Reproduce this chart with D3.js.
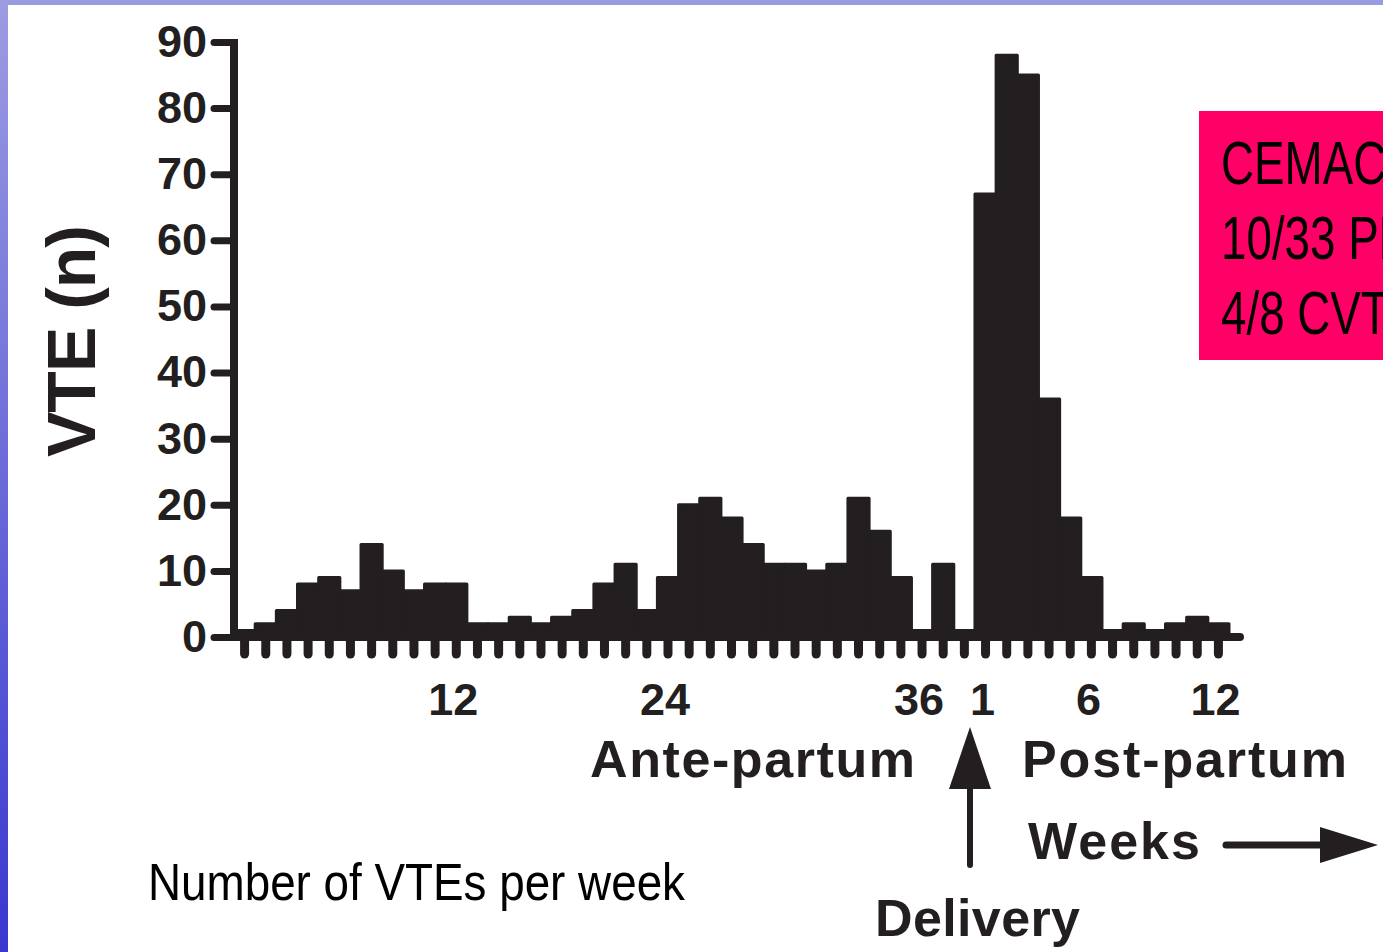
<!DOCTYPE html>
<html>
<head>
<meta charset="utf-8">
<script src="https://cdn.jsdelivr.net/npm/d3@7"></script>
<style>
  body { margin: 0; background: #fff; }
  svg { display: block; }
</style>
</head>
<body>
<svg id="chart" width="1383" height="952"></svg>
<script>
// weekly VTE counts
const anteWeeks = ["A1","A2","A3","A4","A5","A6","A7","A8","A9","A10","A11","A12","A13","A14","A15","A16","A17","A18",
                   "A19","A20","A21","A22","A23","A24","A25","A26","A27","A28","A29","A30","A31","A32","A33","A34","A35"];
const anteCounts = [1,2,4,8,9,7,14,10,7,8,8,2,2,3,2,3,4,8,11,4,9,20,21,18,14,11,11,10,11,21,16,9,1,11,1];
const postWeeks = ["P1","P2","P3","P4","P5","P6","P7","P8","P9","P10","P11","P12"];
const postCounts = [67,88,85,36,18,9,1,2,1,2,3,2];

const yTicks = [0,10,20,30,40,50,60,70,80,90];
const xTickAt = ["A11","A21","A33","P1","P6","P12"];
const xTickText = ["12","24","36","1","6","12"];

const boxLines = ["CEMACH", "10/33 PEs", "4/8 CVT"];

const ink = "#231f20";
const bold = "'Liberation Sans', Arial, Helvetica, sans-serif";

let svg = d3.select("#chart");

// slide frame: gradient strip on the left, flat strip on top
let defs = svg.append("defs");
let grad = defs.append("linearGradient")
    .attr("id", "side")
    .attr("x1", 0).attr("y1", 0).attr("x2", 0).attr("y2", 1);
grad.append("stop").attr("offset", "0%").attr("stop-color", "#9c9ce2");
grad.append("stop").attr("offset", "100%").attr("stop-color", "#3a38cf");

svg.append("rect").attr("x", 0).attr("y", 0).attr("width", 1383).attr("height", 5).attr("fill", "#9a9ae1");
svg.append("rect").attr("x", 0).attr("y", 0).attr("width", 8).attr("height", 952).attr("fill", "url(#side)");

const categories = anteWeeks.concat(postWeeks);
const counts = anteCounts.concat(postCounts);
const data = categories.map((c, i) => ({week: c, n: counts[i]}));

const x = d3.scaleBand()
    .domain(categories)
    .range([234, 1229])
    .padding(0);

const y = d3.scaleLinear()
    .domain([0, 90])
    .range([637, 42]);

// bars
svg.append("g")
    .selectAll("rect")
    .data(data)
    .enter()
    .append("rect")
    .attr("x", d => x(d.week))
    .attr("y", d => y(d.n))
    .attr("width", x.bandwidth())
    .attr("height", d => y(0) - y(d.n))
    .attr("fill", ink)
    .attr("stroke", ink)
    .attr("stroke-width", 3)
    .attr("stroke-linejoin", "round");

// y axis
let yAxis = svg.append("g")
    .attr("transform", "translate(234,0)")
    .call(d3.axisLeft(y)
        .tickValues(yTicks)
        .tickSize(20)
        .tickPadding(7)
        .tickSizeOuter(0));
yAxis.select(".domain").remove();
yAxis.selectAll(".tick line")
    .attr("stroke", ink)
    .attr("stroke-width", 7)
    .attr("stroke-linecap", "round");
yAxis.selectAll(".tick text")
    .attr("fill", ink)
    .style("font-family", bold)
    .style("font-weight", "bold")
    .style("font-size", "45px");

// x axis: a tick under every week, labels only on some
let xAxis = svg.append("g")
    .attr("transform", "translate(0,637)")
    .call(d3.axisBottom(x)
        .tickSize(17)
        .tickPadding(29)
        .tickSizeOuter(0)
        .tickFormat(d => {
            let k = xTickAt.indexOf(d);
            return k < 0 ? "" : xTickText[k];
        }));
xAxis.select(".domain").remove();
xAxis.selectAll(".tick line")
    .attr("stroke", ink)
    .attr("stroke-width", 9)
    .attr("stroke-linecap", "round");
xAxis.selectAll(".tick text")
    .attr("fill", ink)
    .attr("dx", -3)
    .style("font-family", bold)
    .style("font-weight", "bold")
    .style("font-size", "45px");

// axis lines
svg.append("line")
    .attr("x1", 234).attr("x2", 1240)
    .attr("y1", y(0)).attr("y2", y(0))
    .attr("stroke", ink).attr("stroke-width", 8).attr("stroke-linecap", "round");
svg.append("line")
    .attr("x1", 234).attr("x2", 234)
    .attr("y1", y(90) - 3).attr("y2", y(0))
    .attr("stroke", ink).attr("stroke-width", 8);

// y title
svg.append("text")
    .attr("transform", "translate(95,341) rotate(-90)")
    .attr("text-anchor", "middle")
    .attr("fill", ink)
    .attr("textLength", 232)
    .style("font-family", bold)
    .style("font-weight", "bold")
    .style("font-size", "68px")
    .text("VTE (n)");

// period labels
function label(txt, px, py, size) {
    return svg.append("text")
        .attr("x", px).attr("y", py)
        .attr("fill", ink)
        .style("font-family", bold)
        .style("font-weight", "bold")
        .style("font-size", size + "px")
        .text(txt);
}
label("Ante-partum", 590, 777, 52).attr("textLength", 325);
label("Post-partum", 1022, 777, 52).attr("textLength", 325);
label("Weeks", 1028, 859, 52).attr("textLength", 172);
label("Delivery", 875, 936, 52).attr("textLength", 205);

// delivery arrow
svg.append("line")
    .attr("x1", 970).attr("x2", 970).attr("y1", 780).attr("y2", 865)
    .attr("stroke", ink).attr("stroke-width", 6).attr("stroke-linecap", "round");
svg.append("path")
    .attr("d", "M970,727 L949,789 L991,789 Z")
    .attr("fill", ink);

// weeks arrow
svg.append("line")
    .attr("x1", 1226).attr("x2", 1325).attr("y1", 845).attr("y2", 845)
    .attr("stroke", ink).attr("stroke-width", 7).attr("stroke-linecap", "round");
svg.append("path")
    .attr("d", "M1320,827 L1378,845 L1320,863 Z")
    .attr("fill", ink);

// caption
svg.append("text")
    .attr("x", 148).attr("y", 900)
    .attr("fill", "#000")
    .attr("textLength", 537)
    .attr("lengthAdjust", "spacingAndGlyphs")
    .style("font-family", "'Liberation Sans Narrow', 'Liberation Sans', Arial, sans-serif")
    .style("font-size", "52px")
    .text("Number of VTEs per week");

// pink note box, runs off the right edge as in the slide
svg.append("rect")
    .attr("x", 1199).attr("y", 111)
    .attr("width", 200).attr("height", 249)
    .attr("fill", "#ff0066");
let note = svg.append("g")
    .attr("transform", "translate(1221,0) scale(0.75,1)");
note.selectAll("text")
    .data(boxLines)
    .enter()
    .append("text")
    .attr("x", 0)
    .attr("y", (d, i) => 184 + i * 75)
    .attr("fill", "#000")
    .style("font-family", "'Liberation Sans', Arial, sans-serif")
    .style("font-size", "61px")
    .text(d => d);
</script>
</body>
</html>
